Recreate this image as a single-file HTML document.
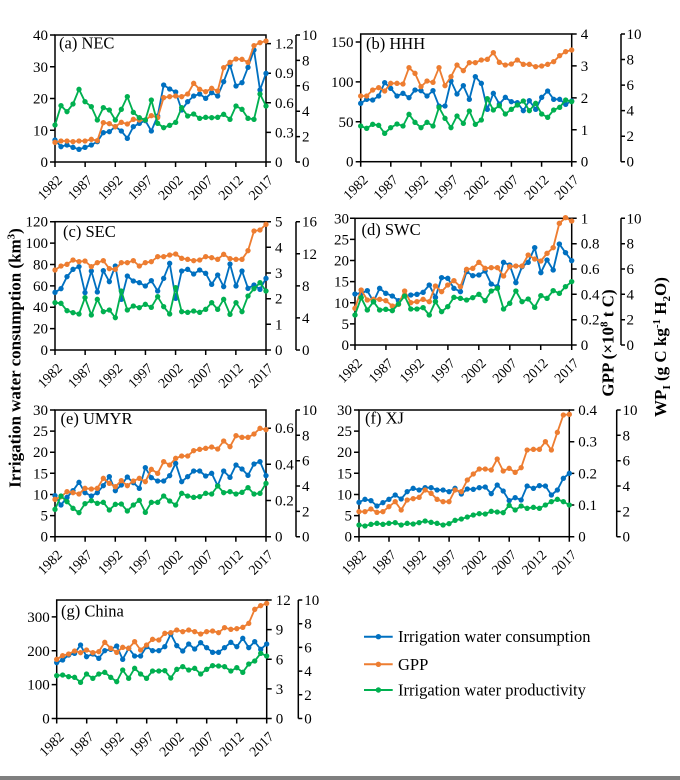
<!DOCTYPE html>
<html><head><meta charset="utf-8"><style>
html,body{margin:0;padding:0;background:#fff;font-family:"Liberation Serif","Times New Roman",serif;}
svg{display:block;font-family:"Liberation Serif","Times New Roman",serif;}
text{font-family:"Liberation Serif","Times New Roman",serif;}
.ax{fill:none;stroke:#000;stroke-width:1.5;}
.t{font-size:15px;fill:#000;font-family:"Liberation Serif","Times New Roman",serif;}
.xl{font-size:14px;fill:#000;font-family:"Liberation Serif","Times New Roman",serif;}
.pl{font-size:16.5px;fill:#000;font-family:"Liberation Serif","Times New Roman",serif;}
.sb{fill:none;stroke:#0070C0;stroke-width:5.5;stroke-linejoin:round;marker:url(#mb);}
.so{fill:none;stroke:#ED7D31;stroke-width:5.5;stroke-linejoin:round;marker:url(#mo);}
.sg{fill:none;stroke:#00B050;stroke-width:5.5;stroke-linejoin:round;marker:url(#mg);}
</style></head><body>
<svg width="680" height="780" viewBox="0 0 680 780" xmlns="http://www.w3.org/2000/svg" font-family="Liberation Serif, Times New Roman, serif">
<defs>
<marker id="mb" markerUnits="userSpaceOnUse" markerWidth="20" markerHeight="20" refX="10" refY="10" viewBox="0 0 20 20"><circle cx="10" cy="10" r="8" fill="#0070C0"/></marker>
<marker id="mo" markerUnits="userSpaceOnUse" markerWidth="20" markerHeight="20" refX="10" refY="10" viewBox="0 0 20 20"><circle cx="10" cy="10" r="8" fill="#ED7D31"/></marker>
<marker id="mg" markerUnits="userSpaceOnUse" markerWidth="20" markerHeight="20" refX="10" refY="10" viewBox="0 0 20 20"><circle cx="10" cy="10" r="8" fill="#00B050"/></marker>
</defs>
<rect x="0" y="0" width="680" height="780" fill="#fff"/>
<rect x="0" y="776" width="680" height="4" fill="#7f7f7f"/>

<!-- ================= Panel (a) ================= -->
<g>
<rect class="ax" x="55" y="35" width="211" height="127"/>
<path class="ax" d="M50 35H55M50 66.75H55M50 98.5H55M50 130.25H55M50 162H55"/>
<path class="ax" d="M266 43.6H271M266 73.2H271M266 102.8H271M266 132.4H271M266 162H271"/>
<path class="ax" d="M296 35V162M296 35H300M296 60.4H300M296 85.8H300M296 111.2H300M296 136.6H300M296 162H300"/>
<path class="ax" d="M55 162V167M85.14 162V167M115.29 162V167M145.43 162V167M175.57 162V167M205.71 162V167M235.86 162V167M266 162V167"/>
<g class="t" text-anchor="end"><text x="48" y="40">40</text><text x="48" y="71.75">30</text><text x="48" y="103.5">20</text><text x="48" y="135.25">10</text><text x="48" y="167">0</text></g>
<g class="t"><text x="275" y="48.6">1.2</text><text x="275" y="78.2">0.9</text><text x="275" y="107.8">0.6</text><text x="275" y="137.4">0.3</text><text x="275" y="167">0</text></g>
<g class="t"><text x="302" y="40">10</text><text x="302" y="65.4">8</text><text x="302" y="90.8">6</text><text x="302" y="116.2">4</text><text x="302" y="141.6">2</text><text x="302" y="167">0</text></g>
<g class="xl" text-anchor="end">
<text transform="translate(63,181) rotate(-45)">1982</text><text transform="translate(93.14,181) rotate(-45)">1987</text><text transform="translate(123.29,181) rotate(-45)">1992</text><text transform="translate(153.43,181) rotate(-45)">1997</text><text transform="translate(183.57,181) rotate(-45)">2002</text><text transform="translate(213.71,181) rotate(-45)">2007</text><text transform="translate(243.86,181) rotate(-45)">2012</text><text transform="translate(274,181) rotate(-45)">2017</text>
</g>
<text class="pl" x="59" y="48.5">(a) NEC</text>
<g transform="translate(0,20) scale(0.333333)">
<polyline class="sb" points="165,360 183,380 201,375 219,382 237,388 255,382 274,375 292,365 310,338 328,335 346,320 364,333 382,355 400,320 418,310 436,302 454,333 473,288 491,195 509,207 527,216 545,270 563,245 581,228 599,222 617,235 635,218 653,228 671,185 690,135 708,198 726,188 744,142 762,90 780,210 798,160"/>
<polyline class="so" points="165,367 183,363 201,363 219,365 237,363 255,363 274,358 292,362 310,308 328,311 346,320 364,307 382,312 400,298 418,300 436,300 454,287 473,293 491,233 509,230 527,228 545,230 563,222 581,190 599,208 617,215 635,205 653,213 671,143 690,127 708,117 726,118 744,127 762,77 780,68 798,63"/>
<polyline class="sg" points="165,315 183,257 201,275 219,252 237,208 255,245 274,260 292,300 310,263 328,270 346,300 364,268 382,230 400,277 418,293 436,300 454,240 473,310 491,323 509,316 527,307 545,263 563,288 581,282 599,295 617,292 635,293 653,292 671,283 690,298 708,258 726,268 744,295 762,298 780,222 798,258"/>
</g>
</g>

<!-- ================= Panel (b) ================= -->
<g>
<rect class="ax" x="360.7" y="34" width="211" height="127.7"/>
<path class="ax" d="M355.7 42H360.7M355.7 81.9H360.7M355.7 121.8H360.7M355.7 161.7H360.7"/>
<path class="ax" d="M571.7 34H576.7M571.7 65.9H576.7M571.7 97.9H576.7M571.7 129.8H576.7M571.7 161.7H576.7"/>
<path class="ax" d="M621 34V161.7M621 34H625M621 59.5H625M621 85.1H625M621 110.6H625M621 136.2H625M621 161.7H625"/>
<path class="ax" d="M360.7 161.7V166.7M390.8 161.7V166.7M421 161.7V166.7M451.1 161.7V166.7M481.3 161.7V166.7M511.4 161.7V166.7M541.6 161.7V166.7M571.7 161.7V166.7"/>
<g class="t" text-anchor="end"><text x="353.5" y="47">150</text><text x="353.5" y="86.9">100</text><text x="353.5" y="126.8">50</text><text x="353.5" y="166.7">0</text></g>
<g class="t"><text x="580.7" y="39">4</text><text x="580.7" y="70.9">3</text><text x="580.7" y="102.9">2</text><text x="580.7" y="134.8">1</text><text x="580.7" y="166.7">0</text></g>
<g class="t"><text x="626.5" y="39">10</text><text x="626.5" y="64.5">8</text><text x="626.5" y="90.1">6</text><text x="626.5" y="115.6">4</text><text x="626.5" y="141.2">2</text><text x="626.5" y="166.7">0</text></g>
<g class="xl" text-anchor="end">
<text transform="translate(368.7,180.7) rotate(-45)">1982</text><text transform="translate(398.8,180.7) rotate(-45)">1987</text><text transform="translate(429,180.7) rotate(-45)">1992</text><text transform="translate(459.1,180.7) rotate(-45)">1997</text><text transform="translate(489.3,180.7) rotate(-45)">2002</text><text transform="translate(519.4,180.7) rotate(-45)">2007</text><text transform="translate(549.6,180.7) rotate(-45)">2012</text><text transform="translate(579.7,180.7) rotate(-45)">2017</text>
</g>
<text class="pl" x="366" y="49">(b) HHH</text>
<g transform="translate(305.67,20) scale(0.333333)">
<polyline class="sb" points="165,250 183,238 201,240 219,228 237,188 255,205 274,228 292,220 310,233 328,210 346,212 364,228 382,212 400,258 418,258 436,183 454,222 473,197 491,238 509,170 527,190 545,268 563,220 581,252 599,232 617,245 635,248 653,272 671,242 690,268 708,232 726,213 744,238 762,238 780,253 798,243"/>
<polyline class="so" points="165,228 183,228 201,210 219,203 237,213 255,190 274,190 292,192 310,143 328,160 346,200 364,183 382,187 400,143 418,197 436,170 454,135 473,152 491,128 509,128 527,120 545,118 563,98 581,127 599,135 617,132 635,120 653,133 671,133 690,140 708,138 726,133 744,125 762,107 780,95 798,90"/>
<polyline class="sg" points="165,318 183,325 201,313 219,316 237,340 255,323 274,312 292,318 310,283 328,307 346,323 364,307 382,318 400,262 418,295 436,323 454,288 473,310 491,273 509,313 527,300 545,236 563,270 581,257 599,282 617,268 635,255 653,243 671,272 690,250 708,282 726,292 744,270 762,262 780,240 798,245"/>
</g>
</g>

<!-- ================= Panel (c) ================= -->
<g>
<rect class="ax" x="55" y="221.7" width="211" height="128.3"/>
<path class="ax" d="M50 221.7H55M50 243.1H55M50 264.5H55M50 285.9H55M50 307.2H55M50 328.6H55M50 350H55"/>
<path class="ax" d="M266 221.7H271M266 247.3H271M266 273H271M266 298.7H271M266 324.3H271M266 350H271"/>
<path class="ax" d="M296 221.7V350M296 221.7H300M296 253.8H300M296 285.9H300M296 317.9H300M296 350H300"/>
<path class="ax" d="M55 350V355M85.14 350V355M115.29 350V355M145.43 350V355M175.57 350V355M205.71 350V355M235.86 350V355M266 350V355"/>
<g class="t" text-anchor="end"><text x="48" y="226.7">120</text><text x="48" y="248.1">100</text><text x="48" y="269.5">80</text><text x="48" y="290.9">60</text><text x="48" y="312.2">40</text><text x="48" y="333.6">20</text><text x="48" y="355">0</text></g>
<g class="t"><text x="275" y="226.7">5</text><text x="275" y="252.3">4</text><text x="275" y="278">3</text><text x="275" y="303.7">2</text><text x="275" y="329.3">1</text><text x="275" y="355">0</text></g>
<g class="t"><text x="302" y="226.7">16</text><text x="302" y="258.8">12</text><text x="302" y="290.9">8</text><text x="302" y="322.9">4</text><text x="302" y="355">0</text></g>
<g class="xl" text-anchor="end">
<text transform="translate(63,369) rotate(-45)">1982</text><text transform="translate(93.14,369) rotate(-45)">1987</text><text transform="translate(123.29,369) rotate(-45)">1992</text><text transform="translate(153.43,369) rotate(-45)">1997</text><text transform="translate(183.57,369) rotate(-45)">2002</text><text transform="translate(213.71,369) rotate(-45)">2007</text><text transform="translate(243.86,369) rotate(-45)">2012</text><text transform="translate(274,369) rotate(-45)">2017</text>
</g>
<text class="pl" x="63" y="237">(c) SEC</text>
<g transform="translate(0,210) scale(0.333333)">
<polyline class="sb" points="165,247 183,236 201,200 219,178 237,170 255,248 274,183 292,246 310,182 328,215 346,168 364,268 382,198 400,213 418,218 436,228 454,212 473,243 491,205 509,160 527,265 545,183 563,178 581,192 599,180 617,190 635,223 653,195 671,230 690,162 708,228 726,183 744,235 762,225 780,238 798,205"/>
<polyline class="so" points="165,180 183,168 201,163 219,150 237,155 255,153 274,170 292,158 310,152 328,176 346,178 364,158 382,158 400,152 418,168 436,158 454,155 473,140 491,140 509,135 527,132 545,145 563,148 581,152 599,150 617,140 635,143 653,148 671,133 690,146 708,148 726,148 744,122 762,63 780,60 798,43"/>
<polyline class="sg" points="165,278 183,280 201,302 219,308 237,312 255,263 274,315 292,268 310,305 328,300 346,323 364,243 382,300 400,288 418,293 436,283 454,292 473,260 491,290 509,312 527,233 545,305 563,307 581,303 599,307 617,298 635,278 653,298 671,268 690,313 708,278 726,305 744,258 762,236 780,218 798,243"/>
</g>
</g>

<!-- ================= Panel (d) ================= -->
<g>
<rect class="ax" x="355" y="218.3" width="216.7" height="126.7"/>
<path class="ax" d="M350 218.3H355M350 239.4H355M350 260.5H355M350 281.6H355M350 302.8H355M350 323.9H355M350 345H355"/>
<path class="ax" d="M571.7 218.3H576.7M571.7 243.7H576.7M571.7 269H576.7M571.7 294.3H576.7M571.7 319.7H576.7M571.7 345H576.7"/>
<path class="ax" d="M621 218.3V345M621 218.3H625M621 243.7H625M621 269H625M621 294.3H625M621 319.7H625M621 345H625"/>
<path class="ax" d="M355 345V350M385.95 345V350M416.9 345V350M447.9 345V350M478.8 345V350M509.8 345V350M540.7 345V350M571.7 345V350"/>
<g class="t" text-anchor="end"><text x="349" y="223.3">30</text><text x="349" y="244.4">25</text><text x="349" y="265.5">20</text><text x="349" y="286.6">15</text><text x="349" y="307.8">10</text><text x="349" y="328.9">5</text><text x="349" y="350">0</text></g>
<g class="t"><text x="580.7" y="223.3">1</text><text x="580.7" y="248.7">0.8</text><text x="580.7" y="274">0.6</text><text x="580.7" y="299.3">0.4</text><text x="580.7" y="324.7">0.2</text><text x="580.7" y="350">0</text></g>
<g class="t"><text x="626.5" y="223.3">10</text><text x="626.5" y="248.7">8</text><text x="626.5" y="274">6</text><text x="626.5" y="299.3">4</text><text x="626.5" y="324.7">2</text><text x="626.5" y="350">0</text></g>
<g class="xl" text-anchor="end">
<text transform="translate(363,364) rotate(-45)">1982</text><text transform="translate(393.95,364) rotate(-45)">1987</text><text transform="translate(424.9,364) rotate(-45)">1992</text><text transform="translate(455.9,364) rotate(-45)">1997</text><text transform="translate(486.8,364) rotate(-45)">2002</text><text transform="translate(517.8,364) rotate(-45)">2007</text><text transform="translate(548.7,364) rotate(-45)">2012</text><text transform="translate(579.7,364) rotate(-45)">2017</text>
</g>
<text class="pl" x="361.5" y="235">(d) SWC</text>
<g transform="matrix(0.34229,0,0,0.333333,298.52,210)">
<polyline class="sb" points="165,252 183,250 201,242 219,275 237,235 255,250 274,258 292,272 310,258 328,255 346,253 364,247 382,225 400,262 418,203 436,205 454,235 473,245 491,185 509,197 527,195 545,183 563,222 581,230 599,157 617,165 635,218 653,170 671,157 690,113 708,188 726,150 744,180 762,102 780,128 798,152"/>
<polyline class="so" points="165,295 183,240 201,270 219,268 237,268 255,272 274,288 292,283 310,243 328,278 346,275 364,268 382,275 400,228 418,245 436,225 454,212 473,230 491,178 509,175 527,157 545,175 563,173 581,173 599,198 617,170 635,168 653,168 671,135 690,147 708,153 726,130 744,113 762,40 780,23 798,33"/>
<polyline class="sg" points="165,315 183,263 201,300 219,275 237,300 255,298 274,302 292,282 310,258 328,297 346,297 364,293 382,315 400,275 418,305 436,290 454,262 473,265 491,270 509,263 527,253 545,272 563,243 581,235 599,297 617,280 635,243 653,275 671,267 690,292 708,257 726,265 744,242 762,250 780,230 798,215"/>
</g>
</g>

<!-- ================= Panel (e) ================= -->
<g>
<rect class="ax" x="55" y="410" width="211" height="126.7"/>
<path class="ax" d="M50 410H55M50 431.1H55M50 452.2H55M50 473.3H55M50 494.5H55M50 515.6H55M50 536.7H55"/>
<path class="ax" d="M266 428.2H271M266 464.3H271M266 500.5H271M266 536.7H271"/>
<path class="ax" d="M296 410V536.7M296 410H300M296 435.3H300M296 460.7H300M296 486H300M296 511.4H300M296 536.7H300"/>
<path class="ax" d="M55 536.7V541.7M85.14 536.7V541.7M115.29 536.7V541.7M145.43 536.7V541.7M175.57 536.7V541.7M205.71 536.7V541.7M235.86 536.7V541.7M266 536.7V541.7"/>
<g class="t" text-anchor="end"><text x="48" y="415">30</text><text x="48" y="436.1">25</text><text x="48" y="457.2">20</text><text x="48" y="478.3">15</text><text x="48" y="499.5">10</text><text x="48" y="520.6">5</text><text x="48" y="541.7">0</text></g>
<g class="t"><text x="275" y="433.2">0.6</text><text x="275" y="469.3">0.4</text><text x="275" y="505.5">0.2</text><text x="275" y="541.7">0</text></g>
<g class="t"><text x="302" y="415">10</text><text x="302" y="440.3">8</text><text x="302" y="465.7">6</text><text x="302" y="491">4</text><text x="302" y="516.4">2</text><text x="302" y="541.7">0</text></g>
<g class="xl" text-anchor="end">
<text transform="translate(63,555.7) rotate(-45)">1982</text><text transform="translate(93.14,555.7) rotate(-45)">1987</text><text transform="translate(123.29,555.7) rotate(-45)">1992</text><text transform="translate(153.43,555.7) rotate(-45)">1997</text><text transform="translate(183.57,555.7) rotate(-45)">2002</text><text transform="translate(213.71,555.7) rotate(-45)">2007</text><text transform="translate(243.86,555.7) rotate(-45)">2012</text><text transform="translate(274,555.7) rotate(-45)">2017</text>
</g>
<text class="pl" x="60.5" y="424">(e) UMYR</text>
<g transform="translate(0,395) scale(0.333333)">
<polyline class="sb" points="165,302 183,330 201,307 219,287 237,262 255,293 274,303 292,293 310,272 328,245 346,287 364,270 382,246 400,263 418,280 436,218 454,248 473,258 491,258 509,242 527,205 545,260 563,245 581,228 599,228 617,243 635,235 653,272 671,228 690,247 708,210 726,222 744,241 762,207 780,200 798,242"/>
<polyline class="so" points="165,313 183,305 201,290 219,293 237,297 255,280 274,282 292,280 310,250 328,265 346,275 364,257 382,272 400,258 418,250 436,260 454,223 473,235 491,200 509,210 527,190 545,183 563,183 581,167 599,163 617,160 635,156 653,162 671,138 690,155 708,122 726,127 744,127 762,117 780,100 798,104"/>
<polyline class="sg" points="165,343 183,303 201,320 219,340 237,353 255,326 274,317 292,325 310,322 328,345 346,328 364,327 382,348 400,330 418,316 436,352 454,322 473,322 491,303 509,318 527,330 545,295 563,303 581,307 599,305 617,295 635,297 653,273 671,293 690,290 708,297 726,292 744,278 762,297 780,295 798,265"/>
</g>
</g>

<!-- ================= Panel (f) ================= -->
<g>
<rect class="ax" x="359" y="410" width="210.3" height="126.7"/>
<path class="ax" d="M354 410H359M354 431.1H359M354 452.2H359M354 473.3H359M354 494.5H359M354 515.6H359M354 536.7H359"/>
<path class="ax" d="M569.3 410H574.3M569.3 441.7H574.3M569.3 473.4H574.3M569.3 505H574.3M569.3 536.7H574.3"/>
<path class="ax" d="M616.7 410V536.7M616.7 410H620.7M616.7 435.3H620.7M616.7 460.7H620.7M616.7 486H620.7M616.7 511.4H620.7M616.7 536.7H620.7"/>
<path class="ax" d="M359 536.7V541.7M389 536.7V541.7M419.1 536.7V541.7M449.1 536.7V541.7M479.2 536.7V541.7M509.2 536.7V541.7M539.3 536.7V541.7M569.3 536.7V541.7"/>
<g class="t" text-anchor="end"><text x="352" y="415">30</text><text x="352" y="436.1">25</text><text x="352" y="457.2">20</text><text x="352" y="478.3">15</text><text x="352" y="499.5">10</text><text x="352" y="520.6">5</text><text x="352" y="541.7">0</text></g>
<g class="t"><text x="578.3" y="415">0.4</text><text x="578.3" y="446.7">0.3</text><text x="578.3" y="478.4">0.2</text><text x="578.3" y="510">0.1</text><text x="578.3" y="541.7">0</text></g>
<g class="t"><text x="622.5" y="415">10</text><text x="622.5" y="440.3">8</text><text x="622.5" y="465.7">6</text><text x="622.5" y="491">4</text><text x="622.5" y="516.4">2</text><text x="622.5" y="541.7">0</text></g>
<g class="xl" text-anchor="end">
<text transform="translate(367,555.7) rotate(-45)">1982</text><text transform="translate(397,555.7) rotate(-45)">1987</text><text transform="translate(427.1,555.7) rotate(-45)">1992</text><text transform="translate(457.1,555.7) rotate(-45)">1997</text><text transform="translate(487.2,555.7) rotate(-45)">2002</text><text transform="translate(517.2,555.7) rotate(-45)">2007</text><text transform="translate(547.3,555.7) rotate(-45)">2012</text><text transform="translate(577.3,555.7) rotate(-45)">2017</text>
</g>
<text class="pl" x="365" y="423.5">(f) XJ</text>
<g transform="matrix(0.33228,0,0,0.333333,304.17,395)">
<polyline class="sb" points="165,322 183,313 201,317 219,333 237,323 255,313 274,300 292,312 310,290 328,280 346,285 364,278 382,278 400,285 418,285 436,290 454,280 473,297 491,282 509,283 527,278 545,276 563,296 581,270 599,288 617,317 635,308 653,315 671,273 690,280 708,272 726,273 744,300 762,285 780,250 798,235"/>
<polyline class="so" points="165,350 183,350 201,342 219,352 237,350 255,335 274,320 292,345 310,315 328,311 346,307 364,285 382,295 400,313 418,320 436,320 454,285 473,290 491,255 509,237 527,222 545,222 563,225 581,192 599,228 617,220 635,232 653,218 671,165 690,163 708,163 726,140 744,165 762,112 780,60 798,58"/>
<polyline class="sg" points="165,390 183,393 201,388 219,385 237,388 255,385 274,383 292,390 310,385 328,387 346,383 364,378 382,382 400,385 418,390 436,386 454,376 473,372 491,366 509,360 527,356 545,357 563,349 581,351 599,353 617,331 635,345 653,333 671,340 690,337 708,340 726,330 744,320 762,313 780,320 798,330"/>
</g>
</g>

<!-- ================= Panel (g) ================= -->
<g>
<rect class="ax" x="56.7" y="600" width="210" height="118.5"/>
<path class="ax" d="M51.7 616.9H56.7M51.7 650.8H56.7M51.7 684.6H56.7M51.7 718.5H56.7"/>
<path class="ax" d="M266.7 600H271.7M266.7 629.6H271.7M266.7 659.3H271.7M266.7 688.9H271.7M266.7 718.5H271.7"/>
<path class="ax" d="M298.3 600V718.5M298.3 600H302.3M298.3 623.7H302.3M298.3 647.4H302.3M298.3 671.1H302.3M298.3 694.8H302.3M298.3 718.5H302.3"/>
<path class="ax" d="M56.7 718.5V723.5M86.7 718.5V723.5M116.7 718.5V723.5M146.7 718.5V723.5M176.7 718.5V723.5M206.7 718.5V723.5M236.7 718.5V723.5M266.7 718.5V723.5"/>
<g class="t" text-anchor="end"><text x="49.7" y="621.9">300</text><text x="49.7" y="655.8">200</text><text x="49.7" y="689.6">100</text><text x="49.7" y="723.5">0</text></g>
<g class="t"><text x="275.7" y="605">12</text><text x="275.7" y="634.6">9</text><text x="275.7" y="664.3">6</text><text x="275.7" y="693.9">3</text><text x="275.7" y="723.5">0</text></g>
<g class="t"><text x="304.3" y="605">10</text><text x="304.3" y="628.7">8</text><text x="304.3" y="652.4">6</text><text x="304.3" y="676.1">4</text><text x="304.3" y="699.8">2</text><text x="304.3" y="723.5">0</text></g>
<g class="xl" text-anchor="end">
<text transform="translate(64.7,737.5) rotate(-45)">1982</text><text transform="translate(94.7,737.5) rotate(-45)">1987</text><text transform="translate(124.7,737.5) rotate(-45)">1992</text><text transform="translate(154.7,737.5) rotate(-45)">1997</text><text transform="translate(184.7,737.5) rotate(-45)">2002</text><text transform="translate(214.7,737.5) rotate(-45)">2007</text><text transform="translate(244.7,737.5) rotate(-45)">2012</text><text transform="translate(274.7,737.5) rotate(-45)">2017</text>
</g>
<text class="pl" x="61" y="616.5">(g) China</text>
<g transform="matrix(0.33175,0,0,0.333333,1.93,580)">
<polyline class="sb" points="165,248 183,240 201,225 219,220 237,195 255,230 274,222 292,235 310,212 328,208 346,198 364,238 382,205 400,228 418,228 436,200 454,212 473,212 491,200 509,162 527,197 545,213 563,192 581,207 599,188 617,203 635,217 653,217 671,203 690,187 708,200 726,175 744,203 762,185 780,208 798,192"/>
<polyline class="so" points="165,238 183,227 201,222 219,213 237,218 255,210 274,218 292,215 310,187 328,205 346,217 364,202 382,205 400,185 418,210 436,195 454,178 473,180 491,160 509,158 527,150 545,155 563,150 581,155 599,162 617,155 635,153 653,158 671,143 690,148 708,146 726,142 744,130 762,88 780,77 798,70"/>
<polyline class="sg" points="165,287 183,285 201,290 219,292 237,307 255,282 274,295 292,282 310,277 328,292 346,305 364,270 382,295 400,265 418,282 436,295 454,273 473,273 491,272 509,294 527,268 545,260 563,270 581,265 599,282 617,268 635,257 653,258 671,260 690,273 708,263 726,277 744,252 762,243 780,220 798,228"/>
</g>
</g>

<!-- ================= Legend ================= -->
<g>
<line x1="364" y1="636.7" x2="392.7" y2="636.7" stroke="#0070C0" stroke-width="2"/><circle cx="378.4" cy="636.7" r="2.7" fill="#0070C0"/>
<line x1="364" y1="664.3" x2="392.7" y2="664.3" stroke="#ED7D31" stroke-width="2"/><circle cx="378.4" cy="664.3" r="2.7" fill="#ED7D31"/>
<line x1="364" y1="690" x2="392.7" y2="690" stroke="#00B050" stroke-width="2"/><circle cx="378.4" cy="690" r="2.7" fill="#00B050"/>
<g style="font-size:16.5px;font-family:'Liberation Serif','Times New Roman',serif" fill="#000">
<text x="398" y="642.2">Irrigation water consumption</text>
<text x="398" y="669.8">GPP</text>
<text x="398" y="695.5">Irrigation water productivity</text>
</g>
</g>

<!-- ================= Axis titles ================= -->
<g style="font-size:17px;font-weight:bold;font-family:'Liberation Serif','Times New Roman',serif" fill="#000">
<text transform="translate(20.5,358) rotate(-90)" text-anchor="middle">Irrigation water consumption (km<tspan dy="-6" font-size="11">3</tspan><tspan dy="6">)</tspan></text>
<text transform="translate(613.5,343) rotate(-90)" text-anchor="middle">GPP (×10<tspan dy="-6" font-size="11">8</tspan><tspan dy="6"> t C)</tspan></text>
<text transform="translate(666,347) rotate(-90)" text-anchor="middle">WP<tspan dy="4" font-size="11">I</tspan><tspan dy="-4"> (g C kg</tspan><tspan dy="-6" font-size="11">-1</tspan><tspan dy="6"> H</tspan><tspan dy="4" font-size="11">2</tspan><tspan dy="-4">O)</tspan></text>
</g>
</svg>
</body></html>
